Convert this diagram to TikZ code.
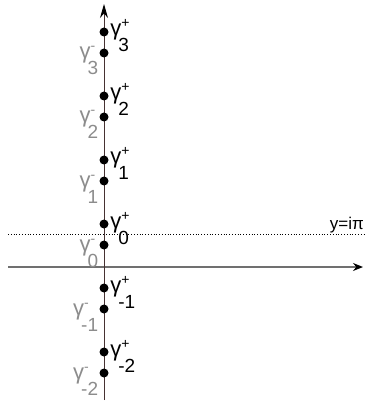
\documentclass[tikz,border=0pt]{standalone}
\usepackage{fontspec}
\setmainfont{Liberation Sans}
\usetikzlibrary{positioning,arrows.meta}
\definecolor{axisgray}{RGB}{112,112,112}
\definecolor{minusgray}{RGB}{140,140,140}
\definecolor{imaxis}{RGB}{70,50,50}
\newcommand{\glab}[2]{γ\rlap{\raisebox{8pt}{\fontsize{14}{14}\selectfont#1}}\hspace{-3pt}\raisebox{-16pt}{\fontsize{19}{19}\selectfont#2}}
\tikzset{
	pole/.style={circle,fill=black,inner sep=0pt,minimum size=9pt},
	pluslab/.style={anchor=base west,inner sep=0pt,font=\fontsize{22}{22}\selectfont},
	minuslab/.style={anchor=base east,inner sep=0pt,text=minusgray,font=\fontsize{22}{22}\selectfont},
}
\begin{document}
\begin{tikzpicture}[x=1pt,y=-1pt]
			\useasboundingbox (0,0) rectangle (370,403);
			%axes
			\coordinate (xs) at (8,267);
			\coordinate (xe) at (363,267);
			\coordinate (ys) at (104,400);
			\coordinate (ye) at (104,4);
			\draw[axisgray,line width=2pt,-{Stealth[black,length=10pt,width=8pt]}] (xs) -- (xe);
			\draw[imaxis,line width=1pt,-{Stealth[black,length=14pt,width=8pt]}] (ys) -- (ye);
			%line y = i pi
			\coordinate (ls) at (8,234);
			\coordinate (le) at (365,234);
			\draw[dotted,line width=0.8pt] (ls) -- (le);
			\node[anchor=south east,inner sep=1pt,font=\fontsize{17}{17}\selectfont] (ipi) at (le) {y=iπ};
			%poles
			\foreach \n in {3,2,1,0,-1,-2}{
				\node[pole] (p\n) at (104,{224-64*\n}) {};
				\node[pole] (m\n) at (104,{245-64*\n}) {};
				\node[pluslab] (lp\n) at ([xshift=1.5pt,yshift=-4pt]p\n.east) {\glab{+}{\n}};
				\node[minuslab] (lm\n) at ([xshift=-1pt,yshift=-6pt]m\n.west) {\glab{-}{\n}};
			}
		\end{tikzpicture}
\end{document}
